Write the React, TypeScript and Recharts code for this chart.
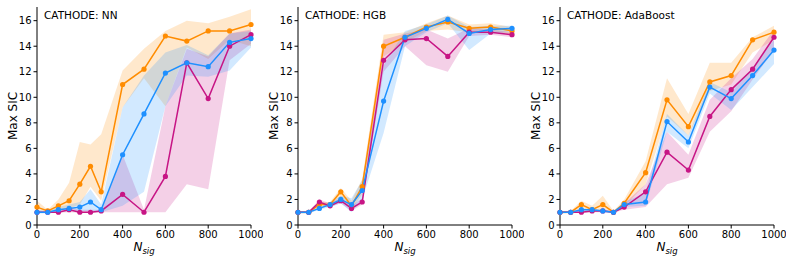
import React from "react";
import { ComposedChart, Area, Line, XAxis, YAxis } from "recharts";

const nsig = [0, 50, 100, 150, 200, 250, 300, 400, 500, 600, 700, 800, 900, 1000];
const xTicks = [0, 200, 400, 600, 800, 1000];
const yTicks = [0, 2, 4, 6, 8, 10, 12, 14, 16];
const titles = ["CATHODE: NN", "CATHODE: HGB", "CATHODE: AdaBoost"];

// NN
const nnOrange = [1.4, 1.1, 1.5, 1.9, 3.2, 4.6, 2.6, 11.0, 12.2, 14.8, 14.4, 15.2, 15.2, 15.7];
const nnOrangeLo = [1.1, 1.0, 1.2, 1.3, 1.6, 3.0, 1.9, 9.2, 11.5, 9.3, 13.9, 13.0, 14.5, 14.0];
const nnOrangeHi = [1.9, 1.2, 2.0, 3.3, 6.5, 6.3, 7.1, 12.1, 13.8, 15.2, 16.0, 15.8, 16.3, 16.9];
const nnMagenta = [1.0, 1.0, 1.0, 1.2, 1.0, 1.0, 1.1, 2.4, 1.0, 3.8, 12.7, 9.9, 14.0, 14.9];
const nnMagentaLo = [0.95, 0.95, 0.95, 1.0, 0.95, 0.95, 1.0, 1.0, 1.0, 1.0, 3.2, 2.8, 12.9, 14.2];
const nnMagentaHi = [1.1, 1.05, 1.1, 1.4, 1.2, 1.2, 1.2, 5.5, 1.2, 9.3, 13.8, 13.2, 15.0, 15.3];
const nnBlue = [1.0, 1.0, 1.2, 1.3, 1.4, 1.8, 1.2, 5.5, 8.7, 11.9, 12.7, 12.4, 14.3, 14.6];
const nnBlueLo = [0.9, 0.9, 1.0, 1.1, 1.1, 1.1, 1.0, 1.5, 2.6, 9.3, 11.7, 11.6, 12.1, 13.9];
const nnBlueHi = [1.2, 1.1, 1.4, 1.6, 1.8, 2.8, 1.6, 9.2, 11.7, 13.5, 14.1, 13.3, 15.0, 15.2];

// HGB
const hgbOrange = [1.0, 1.0, 1.6, 1.6, 2.6, 1.5, 3.0, 14.0, 14.7, 15.5, 15.9, 15.4, 15.5, 15.2];
const hgbOrangeLo = [0.9, 0.9, 1.4, 1.4, 2.2, 1.2, 2.4, 13.2, 14.3, 15.2, 15.3, 15.1, 15.2, 14.9];
const hgbOrangeHi = [1.1, 1.1, 1.8, 1.8, 2.9, 1.9, 3.6, 14.9, 15.1, 15.8, 16.4, 15.7, 15.8, 15.5];
const hgbMagenta = [1.0, 1.0, 1.8, 1.5, 1.9, 1.3, 1.8, 12.9, 14.5, 14.6, 13.2, 15.1, 15.1, 14.9];
const hgbMagentaLo = [0.95, 0.95, 1.6, 1.4, 1.7, 1.1, 1.6, 12.0, 14.0, 12.5, 12.0, 14.8, 14.9, 14.7];
const hgbMagentaHi = [1.05, 1.05, 2.0, 1.7, 2.1, 1.5, 2.1, 14.5, 15.0, 15.3, 14.6, 15.4, 15.3, 15.1];
const hgbBlue = [1.0, 1.0, 1.3, 1.6, 2.0, 1.6, 2.7, 9.7, 14.7, 15.4, 16.1, 15.0, 15.3, 15.4];
const hgbBlueLo = [0.9, 0.9, 1.2, 1.4, 1.7, 1.0, 2.0, 7.2, 14.0, 15.1, 15.8, 13.7, 15.0, 15.1];
const hgbBlueHi = [1.1, 1.1, 1.4, 1.8, 2.3, 2.1, 3.5, 12.5, 15.2, 15.7, 16.4, 15.5, 15.6, 15.6];

// AdaBoost
const adaOrange = [1.0, 1.0, 1.6, 1.2, 1.6, 1.0, 1.7, 4.1, 9.8, 7.7, 11.2, 11.7, 14.5, 15.1];
const adaOrangeLo = [0.9, 0.9, 1.3, 1.0, 1.2, 0.9, 1.4, 3.2, 8.5, 7.0, 10.5, 11.0, 13.5, 14.5];
const adaOrangeHi = [1.1, 1.1, 1.9, 1.5, 2.3, 1.1, 2.0, 5.0, 11.5, 8.7, 12.7, 12.7, 14.7, 15.6];
const adaMagenta = [1.0, 1.0, 1.0, 1.1, 1.1, 1.0, 1.4, 2.6, 5.7, 4.3, 8.5, 10.6, 12.2, 14.7];
const adaMagentaLo = [0.95, 0.95, 0.95, 1.0, 1.0, 0.95, 1.2, 1.4, 3.2, 3.7, 7.3, 8.9, 11.4, 13.7];
const adaMagentaHi = [1.05, 1.05, 1.1, 1.2, 1.2, 1.1, 1.7, 3.2, 7.3, 5.5, 9.8, 11.5, 13.0, 15.3];
const adaBlue = [1.0, 1.0, 1.2, 1.2, 1.1, 1.0, 1.6, 1.8, 8.1, 6.5, 10.8, 9.9, 11.7, 13.7];
const adaBlueLo = [0.9, 0.95, 1.1, 1.1, 1.0, 0.9, 1.4, 1.5, 7.3, 6.0, 10.3, 9.0, 10.8, 12.6];
const adaBlueHi = [1.1, 1.05, 1.3, 1.3, 1.2, 1.1, 1.8, 2.5, 8.7, 7.0, 11.2, 10.4, 12.3, 14.5];

const ORANGE = "#ff8c00";
const MAGENTA = "#c71585";
const BLUE = "#1e90ff";

type Panel = number[][];
const panels: Panel[] = [
  [nnOrange, nnOrangeLo, nnOrangeHi, nnMagenta, nnMagentaLo, nnMagentaHi, nnBlue, nnBlueLo, nnBlueHi],
  [hgbOrange, hgbOrangeLo, hgbOrangeHi, hgbMagenta, hgbMagentaLo, hgbMagentaHi, hgbBlue, hgbBlueLo, hgbBlueHi],
  [adaOrange, adaOrangeLo, adaOrangeHi, adaMagenta, adaMagentaLo, adaMagentaHi, adaBlue, adaBlueLo, adaBlueHi],
];

function toRows(p: Panel) {
  return nsig.map((x, i) => ({
    x,
    o: p[0][i], oBand: [p[1][i], p[2][i]],
    m: p[3][i], mBand: [p[4][i], p[5][i]],
    b: p[6][i], bBand: [p[7][i], p[8][i]],
  }));
}

const NsigLabel = (props: any) => {
  const vb = props.viewBox || {};
  const cx = vb.x + vb.width / 2;
  return (
    <text x={cx} y={vb.y + 26} textAnchor="middle" fontSize={12} fill="#000">
      <tspan fontStyle="italic">N</tspan>
      <tspan fontStyle="italic" fontSize={8.5} dy={3}>sig</tspan>
    </text>
  );
};

const MaxSicLabel = (props: any) => {
  const vb = props.viewBox || {};
  const cx = 12;
  const cy = vb.y + vb.height / 2;
  return (
    <text x={cx} y={cy} transform={`rotate(-90 ${cx} ${cy})`} textAnchor="middle" dominantBaseline="central" fontSize={12} fill="#000">
      Max SIC
    </text>
  );
};

function SicPanel({ p, title }: { p: Panel; title: string }) {
  const data = toRows(p);
  return (
    <div style={{ position: "relative", width: 262, height: 264 }}>
      <ComposedChart width={262} height={264} data={data} margin={{ top: 7, right: 12, left: 0, bottom: 0 }}>
        <XAxis type="number" dataKey="x" domain={[0, 1000]} ticks={xTicks} height={39}
          tick={{ fontSize: 10, fill: "#000" }} tickSize={3.5} stroke="#000"
          label={{ content: NsigLabel }} />
        <XAxis xAxisId="top" orientation="top" type="number" dataKey="x" domain={[0, 1000]}
          height={0} tick={false} tickLine={false} stroke="#000" />
        <YAxis type="number" domain={[0, 17.07]} ticks={yTicks} width={36} allowDataOverflow
          tick={{ fontSize: 10, fill: "#000" }} tickSize={3.5} stroke="#000"
          label={{ content: MaxSicLabel }} />
        <YAxis yAxisId="right" orientation="right" type="number" domain={[0, 17.07]}
          width={0} tick={false} tickLine={false} stroke="#000" />
        <Area type="linear" dataKey="oBand" stroke="none" fill={ORANGE} fillOpacity={0.2} isAnimationActive={false} activeDot={false} />
        <Area type="linear" dataKey="mBand" stroke="none" fill={MAGENTA} fillOpacity={0.2} isAnimationActive={false} activeDot={false} />
        <Area type="linear" dataKey="bBand" stroke="none" fill={BLUE} fillOpacity={0.2} isAnimationActive={false} activeDot={false} />
        <Line type="linear" dataKey="o" stroke={ORANGE} strokeWidth={1.5} dot={{ r: 2.6, fill: ORANGE, stroke: ORANGE, strokeWidth: 0 }} isAnimationActive={false} />
        <Line type="linear" dataKey="m" stroke={MAGENTA} strokeWidth={1.5} dot={{ r: 2.6, fill: MAGENTA, stroke: MAGENTA, strokeWidth: 0 }} isAnimationActive={false} />
        <Line type="linear" dataKey="b" stroke={BLUE} strokeWidth={1.5} dot={{ r: 2.6, fill: BLUE, stroke: BLUE, strokeWidth: 0 }} isAnimationActive={false} />
      </ComposedChart>
      <div style={{ position: "absolute", left: 43, top: 9, fontSize: 10.5, color: "#000", whiteSpace: "nowrap" }}>{title}</div>
    </div>
  );
}

export default function App() {
  return (
    <div style={{ position: "absolute", left: 0, top: 0, width: 793, height: 264, background: "#fff", fontFamily: "'DejaVu Sans', sans-serif" }}>
      {panels.map((p, i) => (
        <div key={i} style={{ position: "absolute", top: 0, left: [1, 262, 524][i] }}>
          <SicPanel p={p} title={titles[i]} />
        </div>
      ))}
    </div>
  );
}
